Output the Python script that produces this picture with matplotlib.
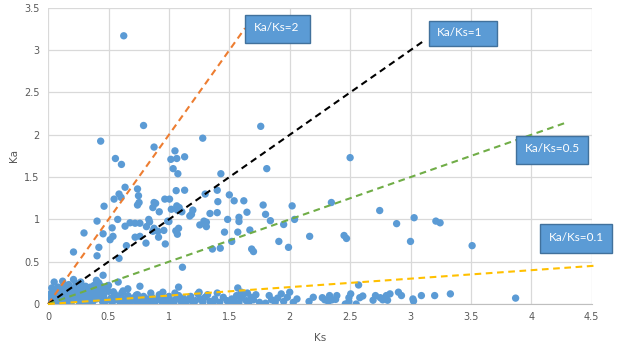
import matplotlib.pyplot as plt
from matplotlib.patches import Rectangle
from matplotlib.ticker import FuncFormatter

# ==================================
# DATA
# ==================================

# scattered points above the dense band (Ks, Ka)
upper_points = [
    (0.626, 3.17), (0.435, 1.925), (0.79, 2.11), (0.877, 1.855), (0.557, 1.72),
    (0.607, 1.65), (1.05, 1.81), (1.016, 1.71), (1.065, 1.72), (1.13, 1.74),
    (1.28, 1.96), (1.035, 1.60), (1.074, 1.54), (1.43, 1.54), (1.76, 2.10),
    (1.81, 1.60), (2.50, 1.73),
    (0.587, 1.30), (0.604, 1.26), (0.546, 1.24), (0.637, 1.38), (0.74, 1.36),
    (0.748, 1.28), (0.74, 1.17), (0.753, 1.20), (0.463, 1.156), (0.405, 0.98),
    (0.576, 1.00), (0.297, 0.84), (0.455, 0.83), (0.53, 0.90), (0.537, 0.80),
    (0.513, 0.76), (0.42, 0.67), (0.21, 0.615), (0.405, 0.57), (0.455, 0.34),
    (0.587, 0.54), (0.648, 0.69), (0.637, 0.92), (0.678, 0.96), (0.72, 0.955),
    (0.76, 0.955), (0.72, 0.79), (0.76, 0.80), (0.81, 0.72), (0.814, 0.915),
    (0.833, 1.00), (0.84, 0.97), (0.867, 0.86), (0.877, 0.895), (0.914, 0.79),
    (0.908, 0.86), (0.89, 1.19), (0.867, 1.14), (0.92, 1.09), (0.877, 1.20),
    (0.966, 1.24), (1.005, 1.24), (0.958, 0.87), (0.97, 0.71), (0.99, 0.98),
    (1.0, 0.975), (1.02, 1.12), (1.06, 1.34), (1.13, 1.345), (1.065, 1.16),
    (1.07, 1.11), (1.085, 1.14), (1.107, 1.09), (1.057, 0.865), (1.08, 0.895),
    (1.07, 0.825), (1.112, 0.435), (1.08, 0.20), (1.173, 1.04), (1.198, 1.11),
    (1.187, 1.06), (1.256, 0.935), (1.30, 1.30), (1.29, 0.98), (1.31, 0.967),
    (1.31, 0.915), (1.34, 1.07), (1.40, 1.345), (1.405, 1.21), (1.40, 1.08),
    (1.36, 0.65), (1.425, 0.66), (1.46, 0.85), (1.50, 1.29), (1.486, 1.00),
    (1.52, 0.74), (1.54, 1.22), (1.57, 0.85), (1.58, 1.025), (1.58, 0.975),
    (1.62, 1.22), (1.646, 1.085), (1.67, 0.875), (1.685, 0.65), (1.70, 0.62),
    (1.78, 1.17), (1.80, 1.06), (1.84, 0.985), (1.91, 0.74), (1.95, 0.94),
    (1.99, 0.67), (2.02, 1.16), (2.04, 1.00), (2.165, 0.80), (1.57, 0.19),
    (2.345, 1.20), (2.745, 1.105), (2.885, 0.95), (3.03, 1.02), (3.21, 0.98),
    (3.245, 0.96), (2.45, 0.81), (2.47, 0.775), (3.0, 0.74), (3.51, 0.69),
    (2.57, 0.225), (3.87, 0.07),
]

# dense band of points close to Ka = 0 (Ks, Ka)
low_points = [
    (0.01, 0.0), (0.02, 0.03), (0.03, 0.06), (0.04, 0.02), (0.05, 0.10),
    (0.06, 0.05), (0.07, 0.15), (0.08, 0.08), (0.09, 0.03), (0.10, 0.12),
    (0.11, 0.18), (0.12, 0.06), (0.13, 0.22), (0.14, 0.10), (0.15, 0.02),
    (0.16, 0.15), (0.17, 0.07), (0.18, 0.20), (0.19, 0.11), (0.20, 0.04),
    (0.21, 0.17), (0.22, 0.09), (0.23, 0.24), (0.24, 0.13), (0.25, 0.05),
    (0.26, 0.19), (0.27, 0.10), (0.28, 0.02), (0.29, 0.16), (0.30, 0.08),
    (0.31, 0.21), (0.32, 0.12), (0.33, 0.04), (0.34, 0.18), (0.35, 0.09),
    (0.36, 0.14), (0.37, 0.03), (0.38, 0.22), (0.39, 0.11), (0.40, 0.06),
    (0.41, 0.17), (0.42, 0.25), (0.43, 0.08), (0.44, 0.13), (0.45, 0.03),
    (0.02, 0.12), (0.03, 0.19), (0.04, 0.08), (0.05, 0.26), (0.06, 0.14),
    (0.07, 0.01), (0.08, 0.20), (0.09, 0.16), (0.10, 0.05), (0.11, 0.09),
    (0.12, 0.27), (0.13, 0.01), (0.14, 0.17), (0.15, 0.12), (0.16, 0.04),
    (0.17, 0.23), (0.18, 0.13), (0.19, 0.02), (0.20, 0.09), (0.21, 0.29),
    (0.22, 0.14), (0.23, 0.07), (0.24, 0.18), (0.26, 0.01), (0.27, 0.26),
    (0.28, 0.11), (0.29, 0.05), (0.30, 0.14), (0.31, 0.03), (0.32, 0.17),
    (0.33, 0.10), (0.34, 0.06), (0.35, 0.20), (0.36, 0.01), (0.37, 0.12),
    (0.39, 0.19), (0.40, 0.28), (0.41, 0.09), (0.43, 0.15), (0.44, 0.21),
    (0.01, 0.05), (0.02, 0.08), (0.03, 0.01), (0.04, 0.14), (0.06, 0.09),
    (0.08, 0.12), (0.01, 0.02),
    (0.46, 0.10), (0.48, 0.04), (0.50, 0.15), (0.52, 0.07), (0.53, 0.02),
    (0.55, 0.12), (0.56, 0.05), (0.58, 0.09), (0.60, 0.01), (0.61, 0.13),
    (0.63, 0.06), (0.65, 0.03), (0.66, 0.10), (0.68, 0.02), (0.70, 0.07),
    (0.72, 0.04), (0.74, 0.11), (0.75, 0.01), (0.77, 0.05), (0.79, 0.09),
    (0.80, 0.02), (0.82, 0.06), (0.84, 0.03), (0.86, 0.08), (0.88, 0.01),
    (0.90, 0.05), (0.92, 0.11), (0.94, 0.03), (0.96, 0.07), (0.98, 0.02),
    (1.00, 0.09), (1.02, 0.04), (1.04, 0.01), (1.06, 0.06), (1.08, 0.10),
    (1.10, 0.03), (1.12, 0.07), (1.14, 0.02), (1.16, 0.05), (1.18, 0.09),
    (1.20, 0.01), (1.22, 0.04), (1.24, 0.12), (1.26, 0.06), (1.28, 0.02),
    (1.30, 0.08), (1.32, 0.11), (1.34, 0.03), (1.36, 0.01), (1.38, 0.06),
    (1.42, 0.02), (1.45, 0.08), (1.48, 0.04), (1.50, 0.01), (1.52, 0.06),
    (1.54, 0.03), (1.56, 0.10), (1.58, 0.02), (1.60, 0.07), (1.62, 0.12),
    (1.64, 0.04), (1.66, 0.01), (1.68, 0.08), (1.70, 0.05), (1.72, 0.11),
    (1.75, 0.02), (1.80, 0.01), (1.83, 0.10), (1.85, 0.05), (1.88, 0.02),
    (1.90, 0.07), (1.93, 0.12), (1.95, 0.03), (1.98, 0.08), (2.00, 0.14),
    (2.03, 0.02), (2.06, 0.06),
    (0.58, 0.26), (0.54, 0.145), (0.62, 0.155), (0.76, 0.21), (0.73, 0.105),
    (0.66, 0.18), (0.85, 0.13), (0.95, 0.14), (0.50, 0.22), (0.47, 0.18),
    (1.05, 0.13), (1.25, 0.14), (1.40, 0.13), (1.60, 0.14), (1.65, 0.13),
    (2.16, 0.03), (2.195, 0.08), (2.27, 0.075), (2.29, 0.05), (2.32, 0.03),
    (2.33, 0.10), (2.35, 0.05), (2.39, 0.10), (2.38, 0.055), (2.46, 0.0),
    (2.49, 0.03), (2.505, 0.12), (2.49, 0.075), (2.55, 0.0), (2.58, 0.075),
    (2.605, 0.095), (2.69, 0.045), (2.71, 0.10), (2.75, 0.075), (2.77, 0.05),
    (2.80, 0.10), (2.81, 0.045), (2.83, 0.12), (2.90, 0.14), (2.925, 0.10),
    (3.02, 0.06), (3.025, 0.035), (3.09, 0.10), (3.20, 0.10), (3.33, 0.12),
]

# reference lines Ka = ratio * Ks
ratios = [2, 1, 0.5, 0.1]
ratio_end_ks = [1.63, 3.12, 4.30, 4.55]
ratio_labels = ["Ka/Ks=2", "Ka/Ks=1", "Ka/Ks=0.5", "Ka/Ks=0.1"]
ratio_colors = ["#ED7D31", "#000000", "#70AD47", "#FFC000"]

# label boxes (x0, y0, width, height) in data units
label_boxes = [
    (1.63, 3.09, 0.54, 0.33),
    (3.15, 3.045, 0.565, 0.305),
    (3.876, 1.657, 0.594, 0.333),
    (4.075, 0.607, 0.595, 0.336),
]

# ==================================
# PLOT
# ==================================

fig = plt.figure(figsize=(6.17, 3.42), dpi=100)
ax = fig.add_axes([0.078, 0.111, 0.881, 0.866])

ks_all = [p[0] for p in upper_points + low_points]
ka_all = [p[1] for p in upper_points + low_points]

ax.scatter(ks_all, ka_all, s=28, color="#5B9BD5", edgecolors="none", zorder=3)

for ratio, end, color in zip(ratios, ratio_end_ks, ratio_colors):
    ax.plot([0, end], [0, ratio * end], linestyle=(0, (3.2, 2.2)),
            color=color, linewidth=1.5, zorder=4, clip_on=False)

for (x0, y0, w, h), label in zip(label_boxes, ratio_labels):
    ax.add_patch(Rectangle((x0, y0), w, h, facecolor="#5B9BD5",
                           edgecolor="#41719C", linewidth=1.0,
                           zorder=5, clip_on=False))
    ax.text(x0 + 0.07, y0 + h * 0.55, label, color="white", fontsize=8.5,
            family="Lato", ha="left", va="center", zorder=6, clip_on=False)

ax.set_xlim(0, 4.5)
ax.set_ylim(0, 3.5)
ax.set_xticks([0, 0.5, 1, 1.5, 2, 2.5, 3, 3.5, 4, 4.5])
ax.set_yticks([0, 0.5, 1, 1.5, 2, 2.5, 3, 3.5])

fmt = FuncFormatter(lambda v, pos: "%g" % v)
ax.xaxis.set_major_formatter(fmt)
ax.yaxis.set_major_formatter(fmt)

ax.grid(True, color="#D9D9D9", linewidth=0.9)
ax.set_axisbelow(True)

for side in ["top", "right", "left"]:
    ax.spines[side].set_visible(False)
ax.spines["bottom"].set_color("#BFBFBF")

ax.tick_params(length=0, labelsize=7, labelcolor="#595959", pad=6)

ax.set_xlabel("Ks", fontsize=7.5, color="#595959", labelpad=8)
ax.set_ylabel("Ka", fontsize=7.5, color="#595959", labelpad=4)

plt.savefig("out.png", dpi=100)
plt.close()
